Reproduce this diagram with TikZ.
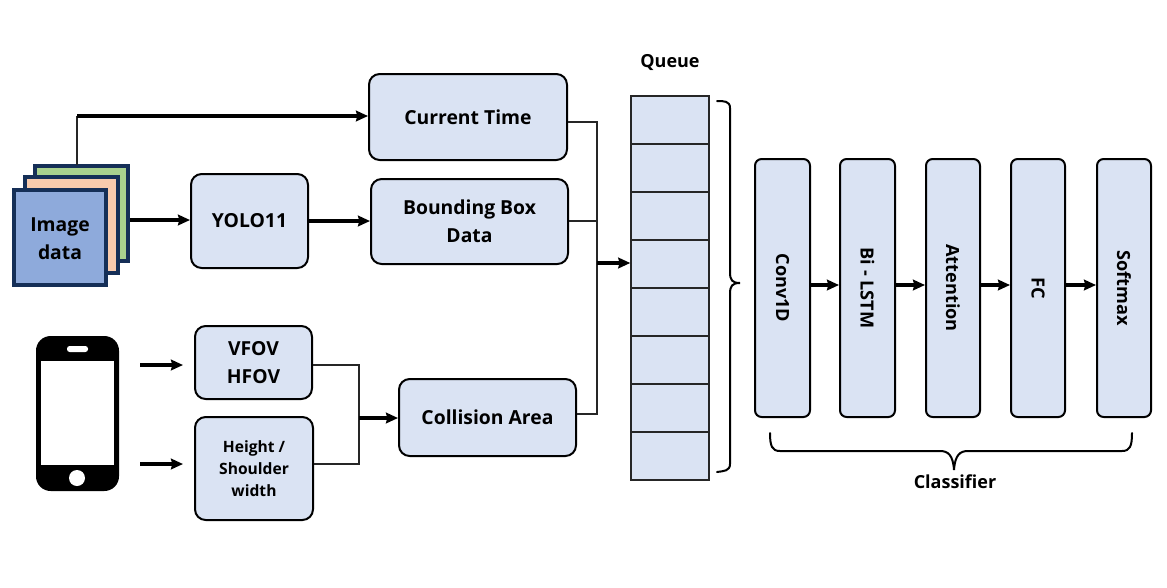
\documentclass[tikz,border=0pt]{standalone}
\usepackage{fontspec}
\setmainfont{Open Sans}
\usetikzlibrary{arrows.meta,calc}
\newcommand{\pxbox}[7][]{% name x0 y0 x1 y1 text
  \pgfmathsetmacro{\bw}{(#5-#3)*0.75}\pgfmathsetmacro{\bh}{(#6-#4)*0.75}
  \node[#1,minimum width=\bw pt,minimum height=\bh pt] (#2) at ({(#3+#5)/2},{(#4+#6)/2}) {#7};}
\newcommand{\vxbox}[7][]{% rotated
  \pgfmathsetmacro{\bw}{(#6-#4)*0.75}\pgfmathsetmacro{\bh}{(#5-#3)*0.75}
  \node[#1,rotate=-90,minimum width=\bw pt,minimum height=\bh pt] (#2) at ({(#3+#5)/2},{(#4+#6)/2}) {#7};}
\definecolor{boxfill}{HTML}{DAE3F3}
\definecolor{navy}{HTML}{152F57}
\definecolor{sheetgreen}{HTML}{A9D18E}
\definecolor{sheetpeach}{HTML}{F8CBAD}
\definecolor{sheetblue}{HTML}{8EAADB}
\tikzset{
  x=0.75pt,y=-0.75pt,
  box/.style={draw=black,fill=boxfill,line width=1.5pt,rounded corners=8pt,inner sep=0pt,align=center,font=\fontsize{14.5}{21}\selectfont\bfseries},
  vbox/.style={box,rounded corners=5pt,font=\fontsize{13.6}{21}\selectfont\bfseries},
  cell/.style={draw=black!85,fill=boxfill,line width=1.1pt,inner sep=0pt},
  sheet/.style={draw=navy,line width=3pt,inner sep=0pt,align=center,font=\fontsize{14.5}{21}\selectfont\bfseries,text depth=0pt},
  thinconn/.style={draw=black!85,line width=1.2pt},
  thickconn/.style={draw=black,line width=2.3pt},
  arr/.style={thickconn,-{Stealth[length=9pt,width=8pt,inset=1pt]}},
  brace/.style={draw=black,line width=1.5pt,line cap=round},
  lab/.style={font=\fontsize{13.5}{15}\selectfont\bfseries,inner sep=0pt},
}
\begin{document}
\begin{tikzpicture}
\useasboundingbox (0,0) rectangle (1167,587);
% image stack
\pxbox[sheet,fill=sheetgreen]{green}{35}{166}{128}{261}{}
\pxbox[sheet,fill=sheetpeach]{peach}{25}{177}{118}{273}{}
\pxbox[sheet,fill=sheetblue]{img}{14}{190}{106}{285}{\raisebox{-1.2pt}{Image}\\\raisebox{-1.2pt}{data}}
% phone
\pxbox[draw=none,fill=black,rounded corners=11pt,inner sep=0pt]{phone}{36}{336}{119}{491}{}
\pxbox[draw=none,fill=white,inner sep=0pt]{screen}{41}{361}{114}{465}{}
\pxbox[draw=none,fill=white,rounded corners=2pt,inner sep=0pt]{speaker}{67}{346}{88}{352}{}
\pxbox[draw=none,fill=white,circle,inner sep=0pt]{homebtn}{69}{470}{85}{486}{}
% boxes
\pxbox[box]{time}{369}{74}{567}{160}{Current Time}
\pxbox[box]{bbox}{371}{179}{568}{264}{Bounding Box\\Data}
\pxbox[box]{yolo}{191}{174}{308}{268}{YOLO11}
\pxbox[box]{fov}{195}{326}{312}{399}{VFOV\\HFOV}
\pxbox[box,font=\fontsize{11.7}{16.5}\selectfont\bfseries]{hsw}{195}{417}{313}{520}{Height /\\Shoulder\\width}
\pxbox[box]{coll}{399}{379}{576}{456}{Collision Area}
% queue
\foreach \i in {0,...,7}{
  \pgfmathsetmacro{\ya}{96+48*\i}\pgfmathsetmacro{\yb}{96+48*(\i+1)}
  \pxbox[cell]{q\i}{631}{\ya}{709}{\yb}{}
}
\node[lab] (qlab) at (670,62) {Queue};
% classifier
\vxbox[vbox]{conv}{755}{159}{810}{417}{Conv1D}
\vxbox[vbox]{lstm}{840}{159}{895}{417}{Bi - LSTM}
\vxbox[vbox]{att}{926}{159}{980}{417}{Attention}
\vxbox[vbox]{fc}{1011}{159}{1065}{417}{FC}
\vxbox[vbox]{soft}{1097}{159}{1151}{417}{Softmax}
\node[lab] (clab) at (955,482) {Classifier};
% connectors
\coordinate (tap) at (77,165);
\coordinate (corner) at (77,116);
\draw[thinconn] (tap) -- (corner);
\draw[arr] (corner) -- (corner -| time.west);
\draw[arr] (green.east |- 0,220) -- (yolo.west |- 0,220);
\draw[arr] (yolo.east |- 0,221) -- (bbox.west |- 0,221);
% collector into the queue
\coordinate (busT) at (597,122);
\coordinate (busB) at (597,414);
\draw[thinconn] (time.east |- busT) -- (busT) -- (busB) -- (coll.east |- busB);
\draw[thinconn] (bbox.east |- 0,221) -- (597,221);
\coordinate (busM) at (597,263);
\draw[arr] (busM) -- (q3.west |- busM);
% fov/hsw collector
\coordinate (joinT) at (359,365);
\coordinate (joinB) at (359,464);
\draw[thinconn] (fov.east |- joinT) -- (joinT) -- (joinB) -- (hsw.east |- joinB);
\coordinate (joinM) at (359,418);
\draw[arr] (joinM) -- (coll.west |- joinM);
% phone arrows
\coordinate (pa1) at (140,365);\coordinate (pb1) at (183,365);
\coordinate (pa2) at (140,464);\coordinate (pb2) at (183,464);
\draw[arr] (pa1) -- (pb1);
\draw[arr] (pa2) -- (pb2);
% classifier arrows (rotated boxes: north faces right, south faces left)
\draw[arr] (conv.north |- 0,285) -- (lstm.south |- 0,285);
\draw[arr] (lstm.north |- 0,285) -- (att.south |- 0,285);
\draw[arr] (att.north |- 0,285) -- (fc.south |- 0,285);
\draw[arr] (fc.north |- 0,285) -- (soft.south |- 0,285);
% braces
\draw[brace] (717,101) .. controls (724,101) and (730,101) .. (730,108) -- (730,272)
  .. controls (730,280) and (732,283) .. (740,283) .. controls (732,283) and (730,286) .. (730,294)
  -- (730,464) .. controls (730,471) and (724,471) .. (717,472);
\draw[brace] (770,433) .. controls (770,446) and (772,451) .. (780,451) -- (940,451)
  .. controls (948,451) and (953,455) .. (954,470) .. controls (955,455) and (960,451) .. (968,451)
  -- (1122,451) .. controls (1130,451) and (1132,446) .. (1132,433);
\end{tikzpicture}
\end{document}
